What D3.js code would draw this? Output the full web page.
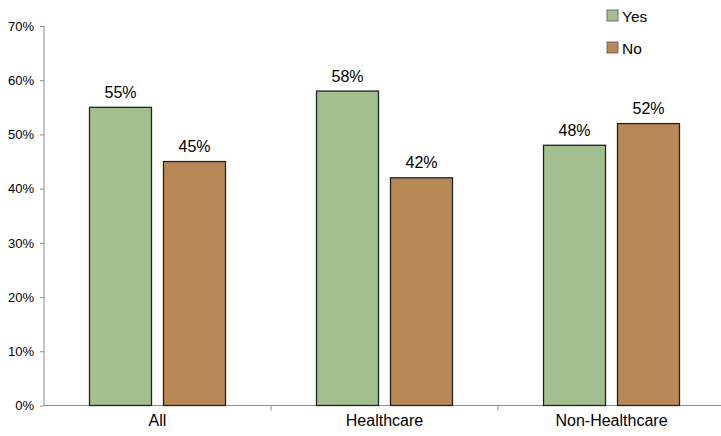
<!DOCTYPE html>
<html><head><meta charset="utf-8">
<script src="https://cdn.jsdelivr.net/npm/d3@7"></script>
<style>body{margin:0;background:#fff;} text{font-family:"Liberation Sans",Arial,sans-serif;}</style>
</head><body>
<svg id="c" width="721" height="436"></svg>
<script>
const categories = ["All", "Healthcare", "Non-Healthcare"];
const seriesNames = ["Yes", "No"];
const yesValues = [55, 58, 48];
const noValues = [45, 42, 52];
const yTicks = [0, 10, 20, 30, 40, 50, 60, 70];
const colors = {"Yes": "#a3bf8f", "No": "#b88856"};

(function(){
const svg = d3.select("#c");
const mLeft = 44, mRight = 725, mTop = 26, mBottom = 405.5;
const x = d3.scaleBand().domain(categories).range([mLeft, mRight]);
const x1 = d3.scaleBand().domain(seriesNames).range([0, 136]).paddingInner(12/74);
const y = d3.scaleLinear().domain([0, 70]).range([mBottom, mTop]);

// y axis
const ya = svg.append("g").attr("transform", `translate(${mLeft},0)`)
  .call(d3.axisLeft(y).tickValues(yTicks).tickFormat(d => d + "%").tickSize(4).tickPadding(6));
ya.select(".domain").attr("stroke", "#8c8c8c").attr("d", `M0,${y(70)}V${y(0)}`);
ya.selectAll(".tick line").attr("stroke", "#8c8c8c");
ya.selectAll(".tick text").attr("font-size", 13).attr("fill", "#000").attr("font-family", "Liberation Sans, Arial, sans-serif");

// x axis
const xa = svg.append("g").attr("transform", `translate(0,${mBottom})`);
xa.append("line").attr("x1", mLeft).attr("x2", 721).attr("stroke", "#8c8c8c");
const bounds = [x("Healthcare"), x("Non-Healthcare")];
xa.selectAll(".sep").data(bounds).join("line").attr("x1", d => d).attr("x2", d => d)
  .attr("y1", 0).attr("y2", 5).attr("stroke", "#8c8c8c");
xa.selectAll(".cl").data(categories).join("text")
  .attr("x", d => x(d) + x.bandwidth()/2).attr("y", 20)
  .attr("text-anchor", "middle").attr("font-size", 16).text(d => d);

// bars
const data = categories.map((c, i) => ({c, vals: [{s: "Yes", v: yesValues[i]}, {s: "No", v: noValues[i]}]}));
const groupOffset = (x.bandwidth() - 136) / 2;
const g = svg.selectAll(".grp").data(data).join("g")
  .attr("transform", d => `translate(${x(d.c) + groupOffset},0)`);
g.selectAll("rect").data(d => d.vals).join("rect")
  .attr("x", d => x1(d.s)).attr("width", x1.bandwidth())
  .attr("y", d => y(d.v)).attr("height", d => y(0) - y(d.v))
  .attr("fill", d => colors[d.s]).attr("stroke", "#222").attr("stroke-width", 1.3);
g.selectAll(".lab").data(d => d.vals).join("text")
  .attr("x", d => x1(d.s) + x1.bandwidth()/2).attr("y", d => y(d.v) - 9.5)
  .attr("text-anchor", "middle").attr("font-size", 16).text(d => d.v + "%");

// legend
const lg = svg.selectAll(".lg").data(seriesNames).join("g")
  .attr("transform", (d, i) => `translate(607,${10 + i*32})`);
lg.append("rect").attr("width", 11).attr("height", 11)
  .attr("fill", d => colors[d]).attr("stroke", "#555").attr("stroke-width", 0.8);
lg.append("text").attr("x", 15).attr("y", 11.5).attr("font-size", 15.5).text(d => d);
})();
</script>
</body></html>
